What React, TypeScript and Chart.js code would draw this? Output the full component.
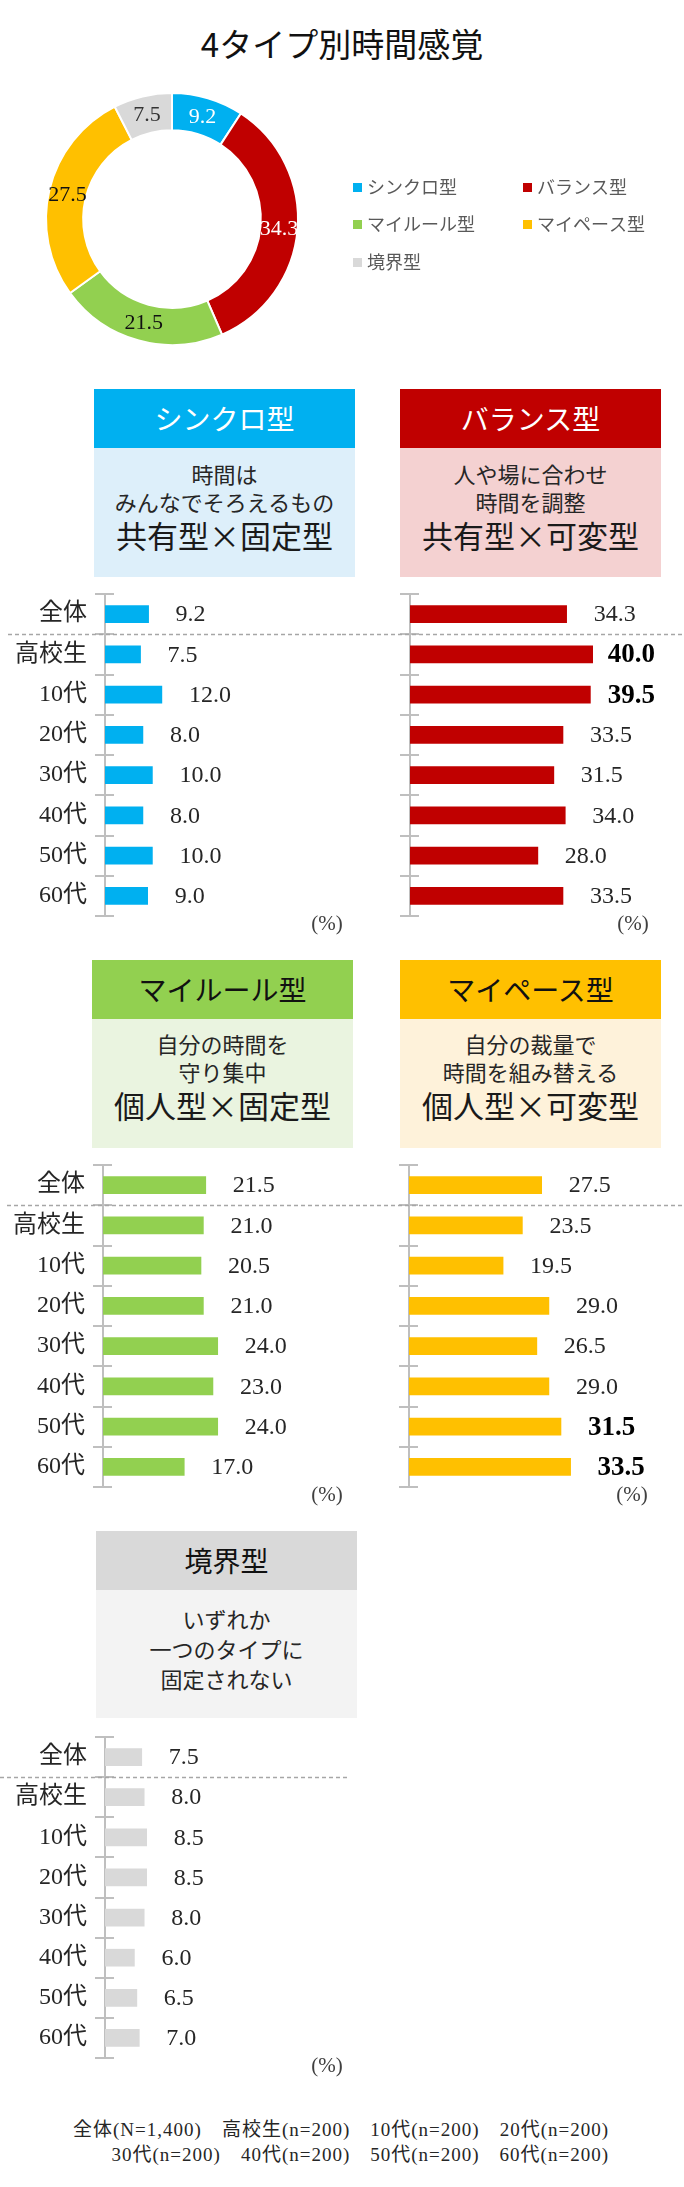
import React, { useEffect, useRef } from 'react';
import { Chart, registerables } from 'chart.js';

Chart.register(...registerables);

// ---- data ----
const categories = ['全体', '高校生', '10代', '20代', '30代', '40代', '50代', '60代'];
const typeNames = ['シンクロ型', 'バランス型', 'マイルール型', 'マイペース型', '境界型'];

const syncValues = [9.2, 7.5, 12.0, 8.0, 10.0, 8.0, 10.0, 9.0];
const balanceValues = [34.3, 40.0, 39.5, 33.5, 31.5, 34.0, 28.0, 33.5];
const myRuleValues = [21.5, 21.0, 20.5, 21.0, 24.0, 23.0, 24.0, 17.0];
const myPaceValues = [27.5, 23.5, 19.5, 29.0, 26.5, 29.0, 31.5, 33.5];
const borderlineValues = [7.5, 8.0, 8.5, 8.5, 8.0, 6.0, 6.5, 7.0];

// categories whose value is printed in bold
const balanceHighlights = ['高校生', '10代'];
const myPaceHighlights = ['50代', '60代'];

const sampleSizesLine1 = ['全体(N=1,400)', '高校生(n=200)', '10代(n=200)', '20代(n=200)'];
const sampleSizesLine2 = ['30代(n=200)', '40代(n=200)', '50代(n=200)', '60代(n=200)'];

// overall share per type = the 全体 value of each series
const overallShares = [syncValues[0], balanceValues[0], myRuleValues[0], myPaceValues[0], borderlineValues[0]];

// ---- styles ----
const SERIF = "'Liberation Serif', 'Noto Sans CJK JP', serif";
const JP = "'Noto Sans CJK JP', 'Noto Sans', sans-serif";

const COLORS = {
  sync: '#00B0F0',
  balance: '#C00000',
  myRule: '#92D050',
  myPace: '#FFC000',
  border: '#D9D9D9',
};
const LIGHT = {
  sync: '#DDEFFA',
  balance: '#F4D1D1',
  myRule: '#EAF4E0',
  myPace: '#FEF2DA',
  border: '#F3F3F3',
};
const typeColors = [COLORS.sync, COLORS.balance, COLORS.myRule, COLORS.myPace, COLORS.border];
const donutLabelColors = ['#FFFFFF', '#FFFFFF', '#111111', '#111111', '#333333'];

const AXIS_GRAY = '#BFBFBF';
const PAD_T = 6;
const PAD_B = 22;

// ---- plugins ----
const panelDecor = {
  id: 'panelDecor',
  afterDraw(chart: any, _args: any, opts: any) {
    const { ctx, chartArea } = chart;
    const yScale = chart.scales.y;
    const n = chart.data.labels.length;
    const bounds: number[] = [];
    for (let i = 0; i <= n; i++) {
      if (i === 0) bounds.push(yScale.top);
      else if (i === n) bounds.push(yScale.bottom);
      else bounds.push((yScale.getPixelForTick(i - 1) + yScale.getPixelForTick(i)) / 2);
    }
    const ax = chartArea.left;
    ctx.save();
    // tick marks crossing the axis at category boundaries
    ctx.strokeStyle = AXIS_GRAY;
    ctx.lineWidth = 2;
    bounds.forEach((b) => {
      const yy = Math.round(b);
      ctx.beginPath();
      ctx.moveTo(ax - 10, yy);
      ctx.lineTo(ax + 9, yy);
      ctx.stroke();
    });
    // dashed separator under the overall row
    ctx.strokeStyle = '#A6A6A6';
    ctx.lineWidth = 1.5;
    ctx.setLineDash([4, 3]);
    ctx.beginPath();
    ctx.moveTo(opts.dashFrom, Math.round(bounds[1]) + 0.5);
    ctx.lineTo(opts.dashTo ?? chart.width, Math.round(bounds[1]) + 0.5);
    ctx.stroke();
    ctx.setLineDash([]);
    // value labels
    const meta = chart.getDatasetMeta(0);
    const vals = chart.data.datasets[0].data;
    const hl: string[] = opts.highlights || [];
    ctx.textAlign = 'left';
    ctx.textBaseline = 'middle';
    meta.data.forEach((bar: any, i: number) => {
      const strong = hl.includes(chart.data.labels[i]);
      ctx.font = strong ? `bold 27px ${SERIF}` : `24px ${SERIF}`;
      ctx.fillStyle = strong ? '#000000' : '#262626';
      const txt = Number(vals[i]).toFixed(1);
      const w = ctx.measureText(txt).width;
      let tx = bar.x + 27;
      const limit = chartArea.right - 29;
      if (tx + w > limit) tx = limit - w;
      ctx.fillText(txt, tx, bar.y + 1);
    });
    // unit
    ctx.font = `21px ${SERIF}`;
    ctx.fillStyle = '#404040';
    ctx.textAlign = 'center';
    ctx.fillText('(%)', opts.unitX, chartArea.bottom + 8);
    ctx.restore();
  },
};

const donutDecor = {
  id: 'donutDecor',
  afterDraw(chart: any, _args: any, opts: any) {
    const { ctx } = chart;
    const meta = chart.getDatasetMeta(0);
    const ds = chart.data.datasets[0];
    ctx.save();
    ctx.textAlign = 'center';
    ctx.textBaseline = 'middle';
    ctx.font = `22px ${SERIF}`;
    meta.data.forEach((arc: any, i: number) => {
      const p = arc.tooltipPosition();
      ctx.fillStyle = opts.labelColors[i];
      ctx.fillText(Number(ds.data[i]).toFixed(1), p.x, p.y + 1);
    });
    // legend, two columns
    ctx.font = `18px ${JP}`;
    ctx.textAlign = 'left';
    chart.data.labels.forEach((name: string, i: number) => {
      const col = i % 2;
      const row = Math.floor(i / 2);
      const mx = opts.legendX[col];
      const my = opts.legendY[row];
      ctx.fillStyle = ds.backgroundColor[i];
      ctx.fillRect(mx, my - 4, 9, 9);
      ctx.fillStyle = '#595959';
      ctx.fillText(name, mx + 14, my);
    });
    ctx.restore();
  },
};

// ---- components ----
function Text({ x, y, size, children, color = '#262626', align = 'center', family = JP, weight = 400, spacing = 0, dy = -2 }: any) {
  const W = 660;
  const left = align === 'center' ? x - W / 2 : align === 'right' ? x - W : x;
  return (
    <div
      style={{
        position: 'absolute',
        left,
        top: y - size + dy,
        width: W,
        height: size * 2,
        lineHeight: `${size * 2}px`,
        fontSize: size,
        color,
        textAlign: align,
        fontFamily: family,
        fontWeight: weight,
        whiteSpace: 'pre',
        letterSpacing: spacing,
      }}
    >
      {children}
    </div>
  );
}

function TypeCard({ x, top, bodyH, headColor, bodyColor, title, titleColor, lines, lineYs, tagline, taglineY }: any) {
  const w = 261;
  const headH = 59;
  const cx = x + w / 2;
  return (
    <>
      <div style={{ position: 'absolute', left: x, top, width: w, height: headH, background: headColor }} />
      <div style={{ position: 'absolute', left: x, top: top + headH, width: w, height: bodyH, background: bodyColor }} />
      <Text x={cx} y={top + 31} size={28} color={titleColor}>{title}</Text>
      {lines.map((l: string, i: number) => (
        <Text key={i} x={cx} y={lineYs[i]} size={22} color="#262626">{l}</Text>
      ))}
      {tagline ? <Text x={cx} y={taglineY} size={31} color="#1a1a1a">{tagline}</Text> : null}
    </>
  );
}

function BarPanel({ left, axisTop, axisH, width, axisX, values, color, showLabels, max, highlights, dashFrom, dashTo, unitX }: any) {
  const ref = useRef<HTMLCanvasElement>(null);
  const height = axisH + PAD_T + PAD_B;
  useEffect(() => {
    const chart = new Chart(ref.current as HTMLCanvasElement, {
      type: 'bar',
      data: {
        labels: categories,
        datasets: [{ data: values, backgroundColor: color, borderWidth: 0, barThickness: 17 }],
      },
      options: {
        indexAxis: 'y',
        animation: false,
        responsive: false,
        maintainAspectRatio: false,
        layout: { padding: { top: PAD_T, bottom: PAD_B, left: 0, right: 0 } },
        plugins: {
          legend: { display: false },
          tooltip: { enabled: false },
          panelDecor: { highlights, dashFrom, dashTo, unitX },
        } as any,
        scales: {
          x: { display: false, min: 0, max },
          y: {
            grid: { display: false, drawTicks: false },
            border: { display: true, color: AXIS_GRAY, width: 2 },
            ticks: {
              display: showLabels,
              autoSkip: false,
              color: '#262626',
              padding: 18,
              font: { family: SERIF, size: 24 },
            },
            afterFit: (s: any) => {
              s.width = axisX;
              s.paddingTop = 0;
              s.paddingBottom = 0;
            },
          },
        },
      },
      plugins: [panelDecor as any],
    });
    return () => chart.destroy();
  }, []);
  return (
    <canvas
      ref={ref}
      width={width}
      height={height}
      style={{ position: 'absolute', left, top: axisTop - PAD_T, width, height }}
    />
  );
}

function DonutChart() {
  const ref = useRef<HTMLCanvasElement>(null);
  const top = 89;
  useEffect(() => {
    const chart = new Chart(ref.current as HTMLCanvasElement, {
      type: 'doughnut',
      data: {
        labels: typeNames,
        datasets: [
          {
            data: overallShares,
            backgroundColor: typeColors,
            borderColor: '#FFFFFF',
            borderWidth: 2,
          },
        ],
      },
      options: {
        animation: false,
        responsive: false,
        maintainAspectRatio: false,
        cutout: '70.5%',
        layout: { padding: { left: 45, right: 385, top: 3, bottom: 3 } },
        plugins: {
          legend: { display: false },
          tooltip: { enabled: false },
          donutDecor: {
            labelColors: donutLabelColors,
            legendX: [353, 523],
            legendY: [187 - top, 224 - top, 262 - top],
          },
        } as any,
      },
      plugins: [donutDecor as any],
    });
    return () => chart.destroy();
  }, []);
  return <canvas ref={ref} width={684} height={260} style={{ position: 'absolute', left: 0, top, width: 684, height: 260 }} />;
}

export default function App() {
  return (
    <div
      style={{
        position: 'absolute',
        left: 0,
        top: 0,
        width: 684,
        height: 2187,
        background: '#FFFFFF',
        overflow: 'hidden',
        fontFamily: JP,
      }}
    >
      <Text x={342} y={47} size={33} color="#111111" dy={-4}>4タイプ別時間感覚</Text>
      <DonutChart />

      {/* row 1 */}
      <TypeCard
        x={94} top={389} bodyH={129}
        headColor={COLORS.sync} bodyColor={LIGHT.sync}
        title={typeNames[0]} titleColor="#FFFFFF"
        lines={['時間は', 'みんなでそろえるもの']} lineYs={[475, 503]}
        tagline="共有型×固定型" taglineY={537}
      />
      <TypeCard
        x={400} top={389} bodyH={129}
        headColor={COLORS.balance} bodyColor={LIGHT.balance}
        title={typeNames[1]} titleColor="#FFFFFF"
        lines={['人や場に合わせ', '時間を調整']} lineYs={[475, 503]}
        tagline="共有型×可変型" taglineY={537}
      />
      <BarPanel left={0} axisTop={594} axisH={322} width={342} axisX={105} values={syncValues}
        color={COLORS.sync} showLabels max={50} highlights={[]} dashFrom={8} unitX={327} />
      <BarPanel left={342} axisTop={594} axisH={322} width={342} axisX={68} values={balanceValues}
        color={COLORS.balance} showLabels={false} max={60} highlights={balanceHighlights} dashFrom={0} unitX={291} />

      {/* row 2 */}
      <TypeCard
        x={92} top={960} bodyH={129}
        headColor={COLORS.myRule} bodyColor={LIGHT.myRule}
        title={typeNames[2]} titleColor="#111111"
        lines={['自分の時間を', '守り集中']} lineYs={[1045, 1073]}
        tagline="個人型×固定型" taglineY={1107}
      />
      <TypeCard
        x={400} top={960} bodyH={129}
        headColor={COLORS.myPace} bodyColor={LIGHT.myPace}
        title={typeNames[3]} titleColor="#111111"
        lines={['自分の裁量で', '時間を組み替える']} lineYs={[1045, 1073]}
        tagline="個人型×可変型" taglineY={1107}
      />
      <BarPanel left={0} axisTop={1165} axisH={322} width={342} axisX={103} values={myRuleValues}
        color={COLORS.myRule} showLabels max={50} highlights={[]} dashFrom={7} unitX={327} />
      <BarPanel left={342} axisTop={1165} axisH={322} width={342} axisX={67} values={myPaceValues}
        color={COLORS.myPace} showLabels={false} max={57} highlights={myPaceHighlights} dashFrom={0} unitX={290} />

      {/* row 3 */}
      <TypeCard
        x={96} top={1531} bodyH={128}
        headColor={COLORS.border} bodyColor={LIGHT.border}
        title={typeNames[4]} titleColor="#111111"
        lines={['いずれか', '一つのタイプに', '固定されない']} lineYs={[1620, 1650, 1680]}
      />
      <BarPanel left={0} axisTop={1737} axisH={321} width={350} axisX={105} values={borderlineValues}
        color={COLORS.border} showLabels max={50} highlights={[]} dashFrom={0} dashTo={349} unitX={327} />

      {/* sample sizes */}
      <Text x={609} y={2132} size={19} align="right" family={SERIF} color="#262626" spacing={1}>
        {sampleSizesLine1.join('\u3000')}
      </Text>
      <Text x={609} y={2157} size={19} align="right" family={SERIF} color="#262626" spacing={1}>
        {sampleSizesLine2.join('\u3000')}
      </Text>
    </div>
  );
}
